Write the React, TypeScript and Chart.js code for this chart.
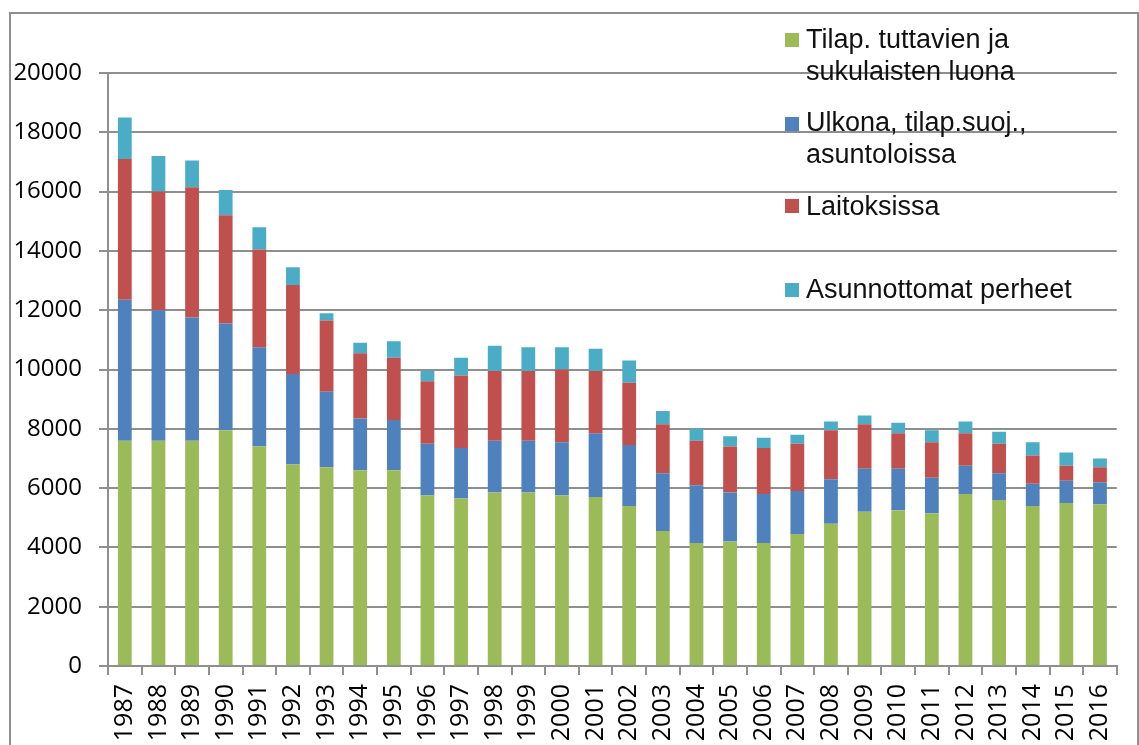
import React, { useEffect, useRef } from "react";
import { Chart, registerables } from "chart.js";

Chart.register(...registerables);

const years = [
  "1987", "1988", "1989", "1990", "1991", "1992", "1993", "1994", "1995", "1996",
  "1997", "1998", "1999", "2000", "2001", "2002", "2003", "2004", "2005", "2006",
  "2007", "2008", "2009", "2010", "2011", "2012", "2013", "2014", "2015", "2016",
];

const tuttavien = [
  7600, 7600, 7600, 7950, 7400, 6800, 6700, 6600, 6600, 5750,
  5650, 5850, 5850, 5750, 5700, 5400, 4550, 4150, 4200, 4150,
  4450, 4800, 5200, 5250, 5150, 5800, 5600, 5400, 5500, 5450,
];
const ulkona = [
  4750, 4400, 4150, 3600, 3350, 3050, 2550, 1750, 1700, 1750,
  1700, 1750, 1750, 1800, 2150, 2050, 1950, 1950, 1650, 1650,
  1450, 1500, 1450, 1400, 1200, 950, 900, 750, 750, 750,
];
const laitoksissa = [
  4750, 4000, 4400, 3650, 3300, 3000, 2400, 2200, 2100, 2100,
  2450, 2350, 2350, 2450, 2100, 2100, 1650, 1500, 1550, 1550,
  1600, 1650, 1500, 1200, 1200, 1100, 1000, 950, 500, 500,
];
const perheet = [
  1400, 1200, 900, 850, 750, 600, 250, 350, 550, 350,
  600, 850, 800, 750, 750, 750, 450, 400, 350, 350,
  300, 300, 300, 350, 400, 400, 400, 450, 450, 300,
];

const seriesLabels = [
  ["Tilap. tuttavien ja", "sukulaisten luona"],
  ["Ulkona, tilap.suoj.,", "asuntoloissa"],
  ["Laitoksissa"],
  ["Asunnottomat perheet"],
];
const seriesColors = ["#9BBB59", "#4F81BD", "#C0504D", "#4BACC6"];
const yTicks = [0, 2000, 4000, 6000, 8000, 10000, 12000, 14000, 16000, 18000, 20000];

const legendMarkerTops = [33, 117, 199, 283];
const legendTextTops = [22.7, 105.7, 189.7, 272.7];

const GRID = "#8f8f8f";

const framePlugin = {
  id: "frame",
  beforeDraw(chart: any) {
    const ctx = chart.ctx;
    ctx.save();
    ctx.fillStyle = "#ffffff";
    ctx.fillRect(0, 0, chart.width, chart.height);
    ctx.strokeStyle = GRID;
    ctx.lineWidth = 2;
    ctx.strokeRect(10, 13, 1128, 800);
    ctx.restore();
  },
};

export default function App() {
  const ref = useRef<HTMLCanvasElement | null>(null);

  useEffect(() => {
    document.body.style.margin = "0";
    if (!ref.current) return;
    const data = [tuttavien, ulkona, laitoksissa, perheet];
    const chart = new Chart(ref.current, {
      type: "bar",
      data: {
        labels: years,
        datasets: data.map((d, i) => ({
          label: seriesLabels[i].join(" "),
          data: d,
          backgroundColor: seriesColors[i],
          borderWidth: 0,
          categoryPercentage: 1,
          barPercentage: 0.41,
        })),
      },
      options: {
        animation: false,
        responsive: true,
        maintainAspectRatio: false,
        layout: { padding: { left: 0, right: 2, top: 73, bottom: 0 } },
        plugins: {
          legend: { display: false },
          tooltip: { enabled: false },
          title: { display: false },
        },
        scales: {
          x: {
            stacked: true,
            afterFit: (s: any) => {
              s.height = 79;
            },
            grid: {
              display: true,
              drawOnChartArea: false,
              drawTicks: true,
              tickLength: 9,
              color: GRID,
              lineWidth: 2,
              offset: true,
            },
            border: { display: true, color: GRID, width: 2 },
            ticks: {
              minRotation: 90,
              maxRotation: 90,
              autoSkip: false,
              padding: 9,
              color: "#000000",
              font: { family: "'Open Sans'", size: 25 },
            },
          },
          y: {
            stacked: true,
            min: 0,
            max: 20000,
            afterFit: (s: any) => {
              s.width = 108;
            },
            afterBuildTicks: (s: any) => {
              s.ticks = yTicks.map((v) => ({ value: v }));
            },
            grid: {
              display: true,
              drawTicks: true,
              tickLength: 9,
              color: GRID,
              lineWidth: 2,
            },
            border: { display: true, color: GRID, width: 2 },
            ticks: {
              padding: 17,
              color: "#000000",
              font: { family: "'Open Sans'", size: 24 },
              callback: (v: any) => String(v),
            },
          },
        },
      },
      plugins: [framePlugin],
    });
    return () => chart.destroy();
  }, []);

  return (
    <div style={{ position: "relative", width: 1139, height: 745, overflow: "hidden" }}>
      <canvas ref={ref} />
      {seriesLabels.map((lines, i) => (
        <React.Fragment key={i}>
          <div
            style={{
              position: "absolute",
              left: 785,
              top: legendMarkerTops[i],
              width: 14,
              height: 14,
              background: seriesColors[i],
            }}
          />
          <div
            style={{
              position: "absolute",
              left: 806,
              top: legendTextTops[i],
              fontFamily: "'Liberation Sans', Arial, sans-serif",
              fontSize: 27,
              lineHeight: "32px",
              color: "#111111",
              whiteSpace: "nowrap",
            }}
          >
            {lines.map((t, j) => (
              <div key={j}>{t}</div>
            ))}
          </div>
        </React.Fragment>
      ))}
    </div>
  );
}
